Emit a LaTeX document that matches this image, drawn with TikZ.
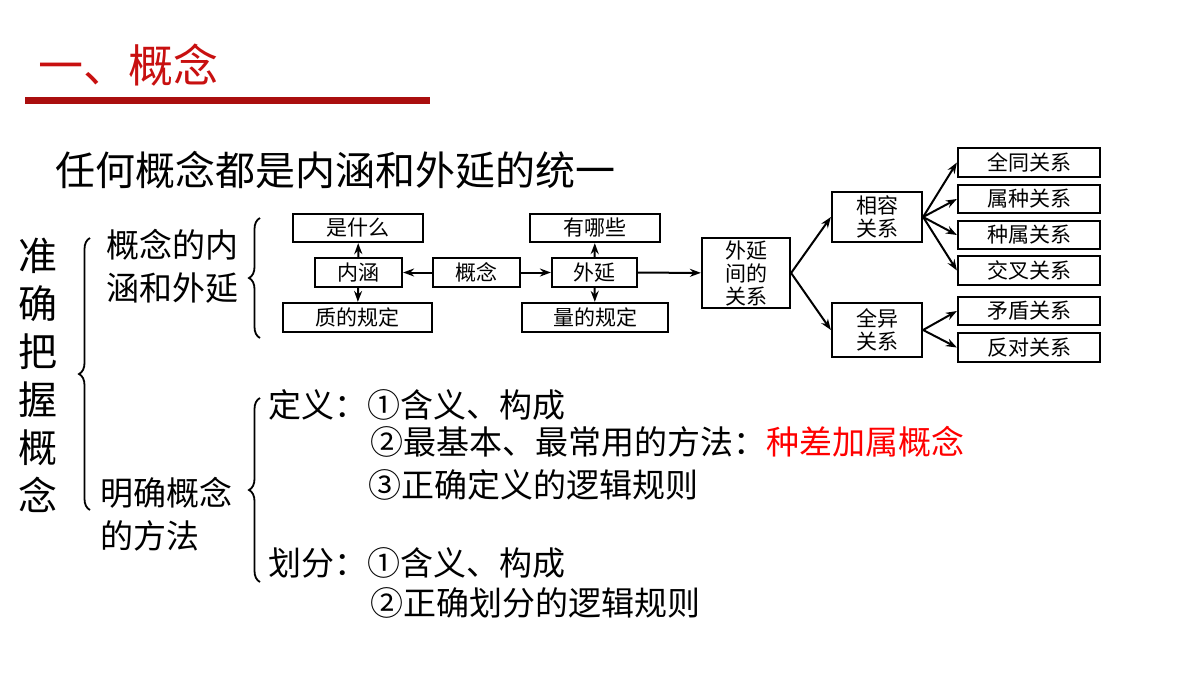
\documentclass[tikz,border=0pt]{standalone}
\usepackage{fontspec}
\setmainfont{Noto Sans CJK SC}
\usetikzlibrary{arrows.meta,decorations.pathreplacing}
\definecolor{tred}{RGB}{200,16,16}
\begin{document}
\begin{tikzpicture}[x=1pt,y=-1pt,
  bx/.style={draw,line width=2.2pt,inner sep=0pt,font=\fontsize{21}{22}\selectfont,align=center},
  ar/.style={line width=2pt,-{Stealth[length=11pt,width=8pt]}},
  br/.style={decorate,decoration={brace,amplitude=11pt},line width=1.8pt},
  big/.style={font=\fontsize{33}{36}\selectfont,anchor=west,inner sep=0pt}]
\useasboundingbox (0,0) rectangle (1200,675);
\node[anchor=west,inner sep=0pt,text=tred,font=\fontsize{45}{46}\selectfont] (title) at (38,65) {一、概念};
\fill[tred!85!black] (25,97) rectangle (430,104);
\node[anchor=west,inner sep=0pt,font=\fontsize{40}{42}\selectfont] (stmt) at (55,170) {任何概念都是内涵和外延的统一};
\node[inner sep=0pt,align=center,font=\fontsize{39}{48}\selectfont] (zq) at (38,375) {准\\确\\把\\握\\概\\念};
\draw[br] (90,510) -- (90,238);
\node[big,align=left,font=\fontsize{33}{43}\selectfont] (nh) at (106,266) {概念的内\\涵和外延};
\node[big,align=left,font=\fontsize{33}{43}\selectfont] (mq) at (100,514) {明确概念\\的方法};
\draw[br] (260,338) -- (260,218);
\draw[br] (260,582) -- (260,398);
% boxes
\node[bx,minimum width=130pt,minimum height=28pt] (sm) at (358,228) {是什么};
\node[bx,minimum width=87pt,minimum height=29pt] (nh2) at (358.5,272.5) {内涵};
\node[bx,minimum width=149pt,minimum height=29pt] (zd) at (357.5,317.5) {质的规定};
\node[bx,minimum width=87pt,minimum height=29pt] (gn) at (476.5,272.5) {概念};
\node[bx,minimum width=85pt,minimum height=29pt] (wy) at (594.5,272.5) {外延};
\node[bx,minimum width=130pt,minimum height=28pt] (yn) at (595,228) {有哪些};
\node[bx,minimum width=146pt,minimum height=29pt] (ld) at (595,317.5) {量的规定};
\node[bx,minimum width=88pt,minimum height=70pt,font=\fontsize{21}{23}\selectfont] (wg) at (746,273) {外延\\间的\\关系};
\node[bx,minimum width=90pt,minimum height=50pt,font=\fontsize{21}{23}\selectfont] (xr) at (877,217) {相容\\关系};
\node[bx,minimum width=90pt,minimum height=54pt,font=\fontsize{21}{23}\selectfont] (qy) at (877,330) {全异\\关系};
\node[bx,minimum width=142pt,minimum height=29pt] (r1) at (1029,162.5) {全同关系};
\node[bx,minimum width=142pt,minimum height=28pt] (r2) at (1029,199) {属种关系};
\node[bx,minimum width=142pt,minimum height=28pt] (r3) at (1029,235) {种属关系};
\node[bx,minimum width=142pt,minimum height=29pt] (r4) at (1029,270.5) {交叉关系};
\node[bx,minimum width=142pt,minimum height=28pt] (r5) at (1029,311) {矛盾关系};
\node[bx,minimum width=142pt,minimum height=29pt] (r6) at (1029,347.5) {反对关系};
% arrows
\draw[ar] (gn) -- (nh2);
\draw[ar] (gn) -- (wy);
\draw[ar] (nh2) -- (sm);
\draw[ar] (nh2) -- (zd);
\draw[ar] (wy) -- (yn);
\draw[ar] (wy) -- (ld);
\draw[ar] (wy) -- (wg);
\draw[ar] (wg.east) -- (xr.west);
\draw[ar] (wg.east) -- (qy.west);
\foreach \r in {r1,r2,r3,r4} \draw[ar] (xr.east) -- (\r.west);
\foreach \r in {r5,r6} \draw[ar] (qy.east) -- (\r.west);
% text lines
\node[big] (d1) at (268,405) {定义：①含义、构成};
\node[big] (d2) at (370,442) {②最基本、最常用的方法：\textcolor{red}{种差加属概念}};
\node[big] (d3) at (368,485) {③正确定义的逻辑规则};
\node[big] (h1) at (268,563) {划分：①含义、构成};
\node[big] (h2) at (370,603) {②正确划分的逻辑规则};
\end{tikzpicture}
\end{document}
